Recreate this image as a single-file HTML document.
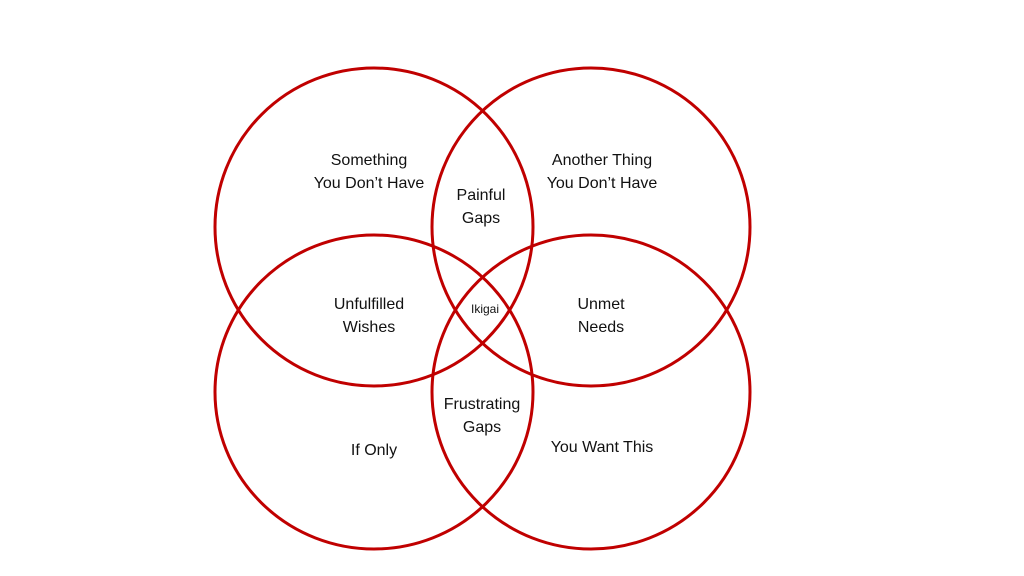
<!DOCTYPE html>
<html><head><style>
html,body{margin:0;padding:0;background:#fff;}
svg{display:block;}
text{font-family:"Liberation Sans",sans-serif;font-size:16px;fill:#111;text-anchor:middle;}
</style></head><body>
<svg width="1024" height="576" viewBox="0 0 1024 576">
<g fill="none" stroke="#C00000" stroke-width="3">
<ellipse cx="374" cy="227" rx="159" ry="159"/>
<ellipse cx="591" cy="227" rx="159" ry="159"/>
<ellipse cx="374" cy="392" rx="159" ry="157"/>
<ellipse cx="591" cy="392" rx="159" ry="157"/>
</g>
<text x="369" y="165">Something</text>
<text x="369" y="188">You Don’t Have</text>
<text x="602" y="165">Another Thing</text>
<text x="602" y="188">You Don’t Have</text>
<text x="481" y="200">Painful</text>
<text x="481" y="223">Gaps</text>
<text x="369" y="309">Unfulfilled</text>
<text x="369" y="332">Wishes</text>
<text x="601" y="309">Unmet</text>
<text x="601" y="332">Needs</text>
<text x="485" y="313" style="font-size:12px">Ikigai</text>
<text x="482" y="409">Frustrating</text>
<text x="482" y="432">Gaps</text>
<text x="374" y="455">If Only</text>
<text x="602" y="452">You Want This</text>
</svg>
</body></html>
